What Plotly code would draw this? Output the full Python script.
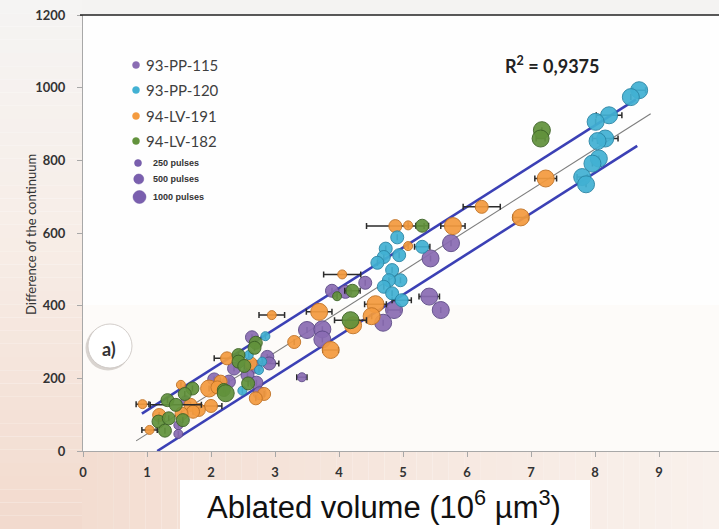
import plotly.graph_objects as go

# ---------------------------------------------------------------------------
# Data: ablated volume (10^6 um^3) vs. difference of the continuum
# ---------------------------------------------------------------------------
series_names = ["93-PP-115", "93-PP-120", "94-LV-191", "94-LV-182"]
series_fill = ["#8a6cb3", "#42b1d3", "#f49b3f", "#62923c"]
series_edge = ["#5d4a88", "#2a86a6", "#c27325", "#3d6326"]

pulse_levels = [250, 500, 1000]
pulse_marker_px = {250: 9, 500: 13, 1000: 17}

pp115_x = [5.75, 5.43, 5.41, 5.59, 4.86, 4.69, 3.89, 4.10, 4.41, 3.50, 3.74, 3.74, 3.42,
           2.64, 2.36, 2.69, 2.88, 2.91, 2.57, 2.05, 2.28, 2.71, 2.76, 1.60, 1.49, 1.49]
pp115_y = [572, 530, 425, 388, 388, 353, 441, 438, 463, 333, 335, 307, 203,
           313, 227, 232, 259, 241, 209, 197, 191, 188, 159, 140, 71, 47]
pp115_pulses = [1000, 1000, 1000, 1000, 1000, 1000, 500, 500, 500, 1000, 1000, 1000, 250,
                500, 500, 500, 500, 500, 500, 500, 500, 500, 500, 250, 250, 250]
pp115_err = [None, None, 0.16, None, 0.10, None, None, None, None, None, None, None, 0.08,
             None, None, None, None, 0.15, None, None, None, None, None, None, None, None]

pp120_x = [8.69, 8.56, 8.22, 8.01, 8.16, 8.04, 8.06, 7.96, 7.80, 7.86,
           4.91, 4.73, 5.30, 4.70, 4.60, 4.94, 4.83, 4.96, 4.78, 4.70, 4.83, 4.98,
           2.85, 2.59, 2.80, 2.75, 2.49]
pp120_y = [993, 974, 924, 906, 860, 853, 805, 791, 754, 734,
           588, 557, 562, 534, 518, 539, 498, 470, 470, 452, 434, 415,
           316, 264, 246, 223, 166]
pp120_pulses = [1000] * 10 + [500] * 12 + [250] * 5
pp120_err = [0.10, None, 0.20, None, 0.20, None, None, None, 0.08, None,
             None, None, 0.12, None, None, None, None, None, None, None, None, 0.15,
             None, None, None, None, None]

lv191_x = [7.23, 6.84, 6.23, 4.88, 5.08, 5.78, 5.08, 4.05, 4.57, 4.51, 4.22, 3.69, 3.30,
           3.87, 2.95, 2.25, 2.62, 1.97, 2.15, 2.83, 2.70, 2.00, 1.53, 0.93, 1.68, 1.81,
           1.72, 1.54, 1.19, 1.04, 2.10]
lv191_y = [750, 643, 672, 619, 621, 619, 564, 486, 404, 371, 346, 383, 300,
           278, 374, 255, 241, 172, 191, 157, 145, 124, 182, 129, 127, 113,
           108, 103, 99, 58, 175]
lv191_pulses = [1000, 1000, 500, 500, 250, 1000, 250, 250, 1000, 1000, 1000, 1000, 500,
                1000, 250, 500, 500, 1000, 500, 500, 500, 500, 250, 250, 500, 500,
                500, 500, 500, 250, 500]
lv191_err = [0.17, 0.12, 0.29, 0.45, None, 0.19, None, 0.29, 0.17, None, None, 0.20, None,
             0.12, 0.20, 0.20, None, None, None, None, None, 0.17, None, 0.10, None, None,
             None, None, None, 0.12, None]

lv182_x = [7.17, 7.15, 5.30, 4.21, 3.97, 4.18, 2.70, 2.68, 2.43, 2.43, 2.52, 2.20, 2.23,
           2.58, 1.71, 1.59, 1.32, 1.45, 1.18, 1.34, 1.56, 1.28]
lv182_y = [883, 860, 620, 441, 426, 360, 298, 284, 264, 246, 234, 168, 159,
           186, 172, 157, 140, 127, 81, 90, 85, 56]
lv182_pulses = [1000, 1000, 500, 500, 250, 1000, 500, 500, 500, 500, 500, 500, 1000,
                500, 500, 500, 500, 500, 500, 500, 500, 500]
lv182_err = [None, 0.07, 0.10, 0.12, None, 0.25, None, None, None, None, None, None, None,
             None, None, None, None, 0.40, None, None, None, None]

# Linear fit and its +/- band
fit_slope = 112.0
fit_intercept = -65.0
band_offset = 65.0
fit_x = [0.83, 8.87]
upper_x = [0.92, 8.64]
lower_x = [1.16, 8.66]
r_squared = "0,9375"

x_ticks = list(range(0, 10))
y_ticks = list(range(0, 1201, 200))

# ---------------------------------------------------------------------------
# Page geometry helpers (pixel -> paper coordinates)
# ---------------------------------------------------------------------------
W, H = 719, 529
L, T, B = 83, 15, 78
PW, PH = W - L, H - T - B


def X(px):
    return (px - L) / PW


def Y(py):
    return (H - B - py) / PH


def lerp_rgb(c1, c2, t):
    return "rgb(%d,%d,%d)" % tuple(round(a + (b - a) * t) for a, b in zip(c1, c2))


shapes = []
# faint warm tint in the lower plot area
shapes.append(dict(type="rect", xref="paper", yref="paper", layer="below",
                   x0=X(L), x1=X(W), y0=Y(H - B), y1=Y(305),
                   fillcolor="#fdfbf9", line=dict(width=0)))
# warm slide background: left strip
n = 40
for i in range(n):
    y0, y1 = H * i / n, H * (i + 1) / n
    t = (i + 0.5) / n
    if t < 0.45:
        col = lerp_rgb((245, 244, 243), (247, 237, 231), t / 0.45)
    else:
        col = lerp_rgb((247, 237, 231), (242, 218, 205), (t - 0.45) / 0.55)
    shapes.append(dict(type="rect", xref="paper", yref="paper", layer="below",
                       x0=X(0), x1=X(L - 1), y0=Y(y1), y1=Y(y0),
                       fillcolor=col, line=dict(width=0)))
# bottom strip
for i in range(n):
    x0 = L - 1 + (W - L + 1) * i / n
    x1 = L - 1 + (W - L + 1) * (i + 1) / n
    col = lerp_rgb((243, 221, 209), (249, 241, 236), (i + 0.5) / n)
    shapes.append(dict(type="rect", xref="paper", yref="paper", layer="below",
                       x0=X(x0), x1=X(x1), y0=Y(H), y1=Y(H - B + 1),
                       fillcolor=col, line=dict(width=0)))
# top strip
shapes.append(dict(type="rect", xref="paper", yref="paper", layer="below",
                   x0=X(L - 1), x1=X(W), y0=Y(T), y1=Y(0),
                   fillcolor="#f4f3f2", line=dict(width=0)))
# dark frame line along the top
shapes.append(dict(type="line", xref="paper", yref="paper",
                   x0=X(80), x1=X(W), y0=1, y1=1, line=dict(color="#222222", width=1.5)))
# white box behind the x-axis title
shapes.append(dict(type="rect", xref="paper", yref="paper", layer="below",
                   x0=X(180), x1=X(590), y0=Y(H), y1=Y(480),
                   fillcolor="#ffffff", line=dict(width=0)))


def px_circle(cx, cy, d, fill, edge, width=0.8, layer="above"):
    return dict(type="circle", xref="paper", yref="paper", layer=layer,
                xsizemode="pixel", ysizemode="pixel", xanchor=X(cx), yanchor=Y(cy),
                x0=-d / 2, x1=d / 2, y0=-d / 2, y1=d / 2,
                fillcolor=fill, line=dict(color=edge, width=width))


# panel label "a)" bubble
shapes.append(px_circle(108, 348, 45, "#d9d4d0", "#d9d4d0", 0, layer="below"))
shapes.append(px_circle(110, 346, 44, "#ffffff", "#c8c2be", 0.8, layer="below"))

annotations = []

# custom legend
legend_rows = [65, 90, 116, 141]
for name, fill, edge, ry in zip(series_names, series_fill, series_edge, legend_rows):
    shapes.append(px_circle(136, ry, 7, fill, fill, 0.5))
    annotations.append(dict(xref="paper", yref="paper", x=X(144), y=Y(ry), text=name,
                            showarrow=False, xanchor="left", yanchor="middle",
                            font=dict(family="Lato", size=15, color="#3f3f3f")))
pulse_rows = [163, 179, 197]
pulse_legend_px = [7, 10, 13]
for lvl, ry, d in zip(pulse_levels, pulse_rows, pulse_legend_px):
    shapes.append(px_circle(138 + (d - 7) / 4, ry, d, "#7a5fae", "#6a52a0", 0.5))
    annotations.append(dict(xref="paper", yref="paper", x=X(151), y=Y(ry),
                            text="<b>%d pulses</b>" % lvl,
                            showarrow=False, xanchor="left", yanchor="middle",
                            font=dict(family="Liberation Sans", size=9, color="#333333")))

annotations.append(dict(xref="paper", yref="paper", x=X(552), y=Y(65),
                        xanchor="center", yanchor="middle",
                        text="<b>R<sup>2</sup> = %s</b>" % r_squared, showarrow=False,
                        font=dict(family="Lato", size=18, color="#222222")))
annotations.append(dict(xref="paper", yref="paper", x=X(109), y=Y(349),
                        xanchor="center", yanchor="middle",
                        text="<b>a)</b>", showarrow=False,
                        font=dict(family="Lato", size=18, color="#333333")))
annotations.append(dict(xref="paper", yref="paper", x=X(31), y=Y(235),
                        xanchor="center", yanchor="middle",
                        text="Difference of the continuum", textangle=-90, showarrow=False,
                        font=dict(family="Lato", size=13, color="#333333")))
annotations.append(dict(xref="paper", yref="paper", x=X(384), y=Y(527),
                        xanchor="center", yanchor="bottom",
                        text="Ablated volume (10<sup>6</sup> µm<sup>3</sup>)", showarrow=False,
                        font=dict(family="Liberation Sans", size=31, color="#111111")))

fig = go.Figure()

# fit lines
fig.add_trace(go.Scatter(x=upper_x, y=[fit_slope * v + fit_intercept + band_offset for v in upper_x],
                         mode="lines", line=dict(color="#3b40b5", width=2.6),
                         hoverinfo="skip", showlegend=False))
fig.add_trace(go.Scatter(x=lower_x, y=[fit_slope * v + fit_intercept - band_offset for v in lower_x],
                         mode="lines", line=dict(color="#3b40b5", width=2.6),
                         hoverinfo="skip", showlegend=False))
fig.add_trace(go.Scatter(x=fit_x, y=[fit_slope * v + fit_intercept for v in fit_x],
                         mode="lines", line=dict(color="#7d7d7d", width=1.1),
                         hoverinfo="skip", showlegend=False))

series_data = [
    (pp115_x, pp115_y, pp115_pulses, pp115_err),
    (lv191_x, lv191_y, lv191_pulses, lv191_err),
    (pp120_x, pp120_y, pp120_pulses, pp120_err),
    (lv182_x, lv182_y, lv182_pulses, lv182_err),
]
order = [0, 2, 1, 3]
for (xs, ys, pulses, errs), k in zip(series_data, order):
    fig.add_trace(go.Scatter(
        x=xs, y=ys, mode="markers", name=series_names[k],
        marker=dict(size=[pulse_marker_px[p] for p in pulses], color=series_fill[k],
                    opacity=0.93, line=dict(color=series_edge[k], width=1)),
        error_x=dict(type="data", array=errs, symmetric=True, color="#2b2b2b",
                     thickness=1.5, width=3),
        showlegend=False,
    ))

axis_font = dict(family="Lato", size=13, color="#333333", weight="bold")
fig.update_layout(
    width=W, height=H,
    margin=dict(l=L, r=0, t=T, b=B),
    paper_bgcolor="#fefefe",
    plot_bgcolor="rgba(0,0,0,0)",
    showlegend=False,
    shapes=shapes,
    annotations=annotations,
    xaxis=dict(range=[0, PW / 64.0], tickvals=x_ticks, ticks="outside", ticklen=5,
               tickcolor="#a8a8a8", showline=True, linecolor="#a8a8a8", linewidth=1.2,
               showgrid=False, zeroline=False, tickfont=axis_font, ticklabelstandoff=4),
    yaxis=dict(range=[0, 1200], tickvals=y_ticks, ticks="outside", ticklen=5,
               tickcolor="#a8a8a8", showline=True, linecolor="#a8a8a8", linewidth=1.2,
               showgrid=False, zeroline=False, tickfont=axis_font, ticklabelstandoff=9),
)

fig.write_html("out.html")
